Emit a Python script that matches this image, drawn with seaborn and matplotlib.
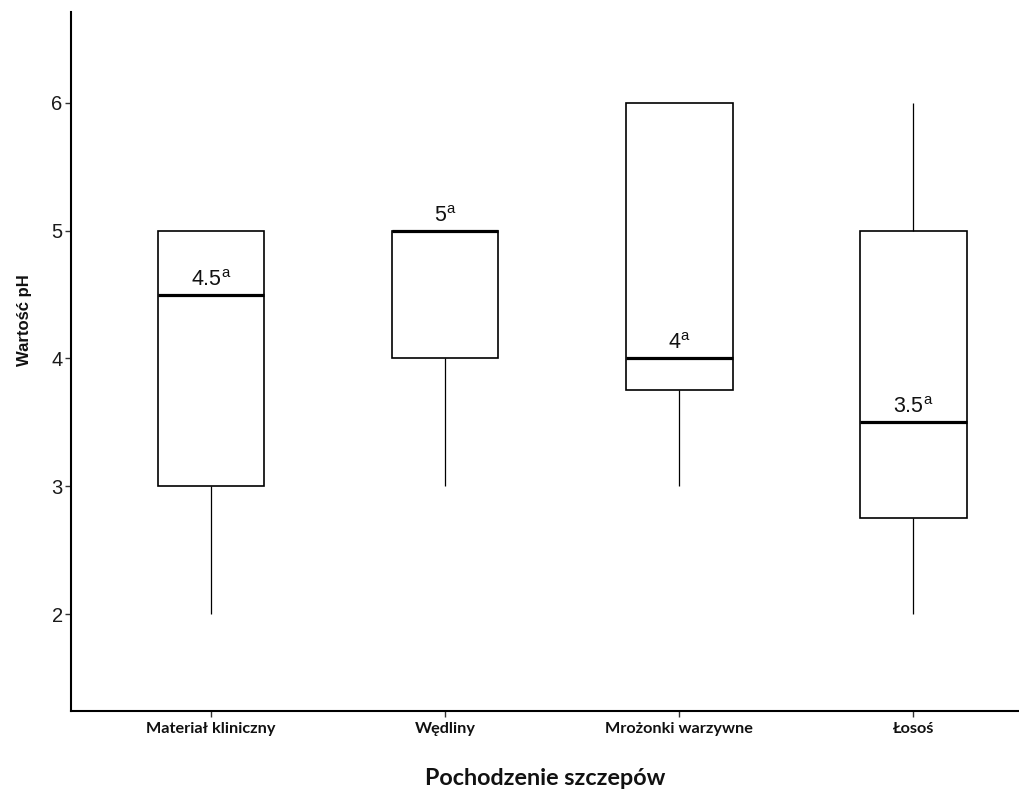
import numpy as np
import pandas as pd
import matplotlib
matplotlib.use("Agg")
import matplotlib.pyplot as plt
import seaborn as sns

# Strain origin groups and pH five-number summaries
categories = ["Materiał kliniczny", "Wędliny", "Mrożonki warzywne", "Łosoś"]
ph_min = [2, 3, 3, 2]
ph_q1 = [3, 4, 3.75, 2.75]
ph_median = [4.5, 5, 4, 3.5]
ph_q3 = [5, 5, 6, 5]
ph_max = [5, 5, 6, 6]
group_letters = ["a", "a", "a", "a"]
y_ticks = [2, 3, 4, 5, 6]

# Long-format table: five values per group reproduce the summary exactly
rows = []
for cat, lo, q1, med, q3, hi in zip(categories, ph_min, ph_q1, ph_median, ph_q3, ph_max):
    for v in (lo, q1, med, q3, hi):
        rows.append({"source": cat, "ph": v})
df = pd.DataFrame(rows)

sns.set_theme(style="white")
plt.rcParams["mathtext.fontset"] = "custom"
plt.rcParams["mathtext.rm"] = "Liberation Sans"

fig = plt.figure(figsize=(10.19, 7.94), dpi=100)
ax = fig.add_axes([71 / 1019, 1 - 711 / 794, 1 - 71 / 1019, (711 - 12) / 794])

sns.boxplot(
    data=df, x="source", y="ph", order=categories, ax=ax,
    color="white", linecolor="black", width=0.455, whis=(0, 100),
    showcaps=False, fliersize=0,
    boxprops={"linewidth": 1.2, "edgecolor": "black", "facecolor": "white"},
    whiskerprops={"linewidth": 0.9, "color": "black"},
    medianprops={"linewidth": 2.3, "color": "black"},
)

# Median value labels with group letter
for i, (med, let) in enumerate(zip(ph_median, group_letters)):
    ax.annotate(f"{med:g}" + r"$^{\mathregular{" + let + "}}$",
                xy=(i, med), xytext=(0, 6.5), textcoords="offset points",
                ha="center", va="baseline", fontsize=15.5,
                family="Liberation Sans", color="#111111")

ax.set_xlim(-0.598, (1019 - 211.5) / 234)
ax.set_ylim(1.242, 6.711)
ax.set_yticks(y_ticks)
ax.set_yticklabels([str(t) for t in y_ticks], family="Liberation Sans",
                   fontsize=14.5, color="#1a1a1a")
ax.set_xticks(range(len(categories)))
ax.set_xticklabels(categories, family="Lato", fontweight="bold",
                   fontsize=11.7, color="#111111")

ax.set_xlabel("Pochodzenie szczepów", family="Lato", fontweight="bold",
              fontsize=16.8, color="#111111")
ax.set_ylabel("Wartość pH", family="Liberation Sans", fontweight="bold",
              fontsize=12, color="#111111")
ax.xaxis.set_label_coords(0.5, -(768 - 711) / 699)
ax.yaxis.set_label_coords(-(71 - 32) / 948, (711 - 320) / 699)

sns.despine(ax=ax)
for side in ("left", "bottom"):
    ax.spines[side].set_linewidth(1.5)
    ax.spines[side].set_color("black")
ax.tick_params(axis="both", which="major", length=4, width=1,
               color="#333333", left=True, bottom=True)
ax.tick_params(axis="y", pad=2)
ax.tick_params(axis="x", pad=4)

fig.savefig("out.png", dpi=100, facecolor="white")
